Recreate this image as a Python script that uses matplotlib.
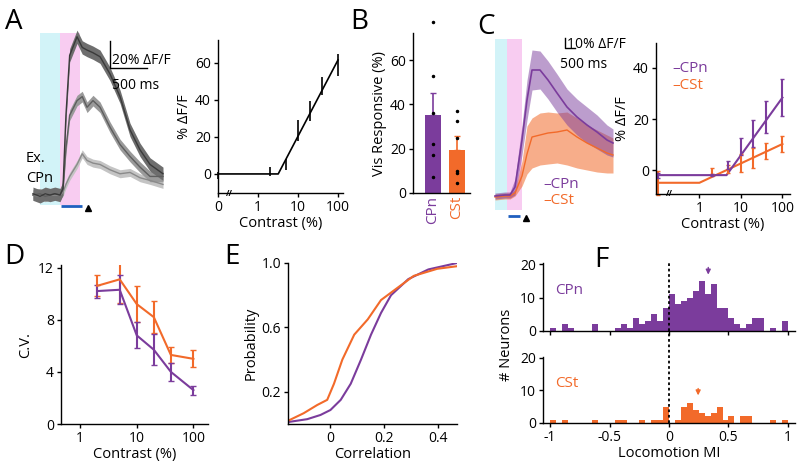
import numpy as np
import matplotlib.pyplot as plt
import matplotlib.transforms as mtransforms

plt.rcParams['font.family'] = ['Open Sans', 'DejaVu Sans']
plt.rcParams['font.size'] = 10
plt.rcParams['axes.linewidth'] = 1.0
plt.rcParams['xtick.major.size'] = 3
plt.rcParams['ytick.major.size'] = 3
plt.rcParams['xtick.labelsize'] = 10
plt.rcParams['ytick.labelsize'] = 10
plt.rcParams['axes.labelsize'] = 10.5

PURPLE = '#7b3c9c'
ORANGE = '#f26a2a'
CYAN = '#d2f3f8'
PINK = '#f8ccf1'
BLUE = '#1f5fbf'

# ---- panel A: example traces (ms, % dF/F)
a_time = [-365, -270, -200, -135, -70, 0, 40, 80, 130, 230, 300, 365, 445,
          540, 675, 810, 945, 1080, 1215, 1390]
a_high = [1, -1, 1, 0, 1, 0, 5, 60, 105, 119, 111, 109, 107, 104, 91, 74, 49,
          34, 23, 16]
a_mid = [0, 1, -1, 0, 1, 0, 4, 35, 60, 71, 74, 66, 71, 66, 51, 38, 29, 21, 14,
         14]
a_low = [0, -1, 1, 0, 0, 0, 2, 8, 14, 23, 31, 26, 24, 23, 19, 16, 17, 13, 11, 8]
a_sem = [5, 4, 3]

# ---- panel A: contrast response
a_contrast = [0.1, 2, 5, 10, 20, 40, 100]   # 0 % drawn at 0.1
a_resp = [-1, 1.5, 5, 23.5, 34, 47.5, 59]
a_err = [2, 2.5, 3, 5.5, 5.5, 5, 6]
a_fit_x = [0.1, 3.2, 100]
a_fit_y = [0, 0, 61.6]

# ---- panel B
cells = ['CPn', 'CSt']
vis_mean = [35, 19.5]
vis_sem = [10, 6]
cpn_dots = [77, 53, 36, 22, 17, 7]
cst_dots = [37, 32.6, 25, 10, 9, 4.6]

# ---- panel C: population traces (ms, % dF/F)
c_time = [-600, -100, 150, 400, 750, 1000, 1250, 1650, 2050, 2500, 3000, 3500,
          4000, 4500, 5000, 5300]
c_cpn = [0, 1, 1, 9, 56, 96, 126, 126, 116, 103, 89, 79, 71, 64, 56, 53]
c_cpn_sem = [3, 3, 3, 8, 15, 20, 20, 19, 19, 19, 18, 18, 18, 17, 15, 14]
c_cst = [-1, 0, 0, 3, 20, 42, 59, 61, 63, 64, 66, 59, 53, 48, 43, 41]
c_cst_hi = [2, 3, 3, 6, 35, 70, 78, 83, 84, 83, 84, 78, 71, 66, 61, 58]
c_cst_lo = [-4, -3, -3, 0, 10, 22, 28, 31, 32, 33, 31, 28, 26, 24, 23, 23]

# ---- panel C: contrast response
c_contrast = [0.1, 2, 5, 10, 20, 40, 100]
c_cpn_resp = [-2, -2, 2, 9.2, 14.4, 20.9, 28.4]
c_cpn_err = [1, 0.5, 1.5, 3.3, 5.2, 6.3, 7.3]
c_cst_resp = [-5, -0.3, 0.4, 2.6, 4.6, 7.5, 10.2]
c_cst_err = [4.7, 1.2, 1.5, 3.5, 4, 3, 3]
c_cpn_fit_x = [0.1, 4.5, 100]
c_cpn_fit_y = [-2, -2, 28.4]
c_cst_fit_x = [0.1, 1, 100]
c_cst_fit_y = [-5, -5, 10.2]

# ---- panel D
d_contrast = [2, 5, 10, 20, 40, 100]
d_cpn = [10.2, 10.3, 6.8, 5.7, 4.0, 2.6]
d_cpn_err = [0.5, 1.1, 1.0, 1.2, 0.7, 0.35]
d_cst = [10.6, 11.1, 9.2, 8.2, 5.3, 5.0]
d_cst_err = [0.8, 1.8, 1.4, 1.2, 0.6, 0.65]

# ---- panel E: cumulative distributions
e_cpn_x = [-0.155, -0.084, -0.035, 0.002, 0.04, 0.077, 0.115, 0.152, 0.189,
           0.226, 0.29, 0.364, 0.47]
e_cpn_p = [0.012, 0.03, 0.056, 0.087, 0.15, 0.25, 0.40, 0.555, 0.69, 0.80,
           0.90, 0.96, 1.0]
e_cst_x = [-0.155, -0.097, -0.047, -0.01, 0.015, 0.046, 0.09, 0.14, 0.189,
           0.25, 0.31, 0.397, 0.47]
e_cst_p = [0.02, 0.067, 0.118, 0.15, 0.25, 0.40, 0.555, 0.65, 0.77, 0.846,
           0.92, 0.964, 0.98]

# ---- panel F: locomotion MI histograms, bins of 0.05 from -1 to 1
f_edges = np.linspace(-1, 1, 41)
f_cpn = [1, 0, 2, 1, 0, 0, 0, 2, 0, 0, 0, 1, 2, 1, 4, 2, 3, 5, 3, 7,
         11, 8, 9, 10, 12, 15, 11, 14, 7, 7, 4, 2, 1, 2, 4, 4, 0, 1, 0, 3]
f_cst = [1, 0, 1, 0, 0, 0, 0, 1, 0, 0, 0, 1, 1, 0, 0, 1, 0, 1, 1, 5,
         0, 1, 5, 6, 4, 3, 2, 3, 5, 1, 2, 0, 2, 2, 0, 0, 0, 1, 0, 1]
f_cpn_median = 0.33
f_cst_median = 0.245

W, H = 800, 472
fig = plt.figure(figsize=(8, 4.72), dpi=100)


def box(l, t, r, b):
    return fig.add_axes([l / W, 1 - b / H, (r - l) / W, (b - t) / H])


def clean(ax):
    ax.spines['top'].set_visible(False)
    ax.spines['right'].set_visible(False)
    ax.tick_params(direction='out', length=3, width=1, pad=2)


def letter(x, y, s):
    fig.text(x / W, 1 - y / H, s, fontsize=20, ha='center', va='center')


def break_mark(ax, x):
    tr = mtransforms.blended_transform_factory(ax.transAxes, ax.transAxes)
    ax.text(x, 0, '//', transform=tr, fontsize=6, ha='center', va='center',
            fontweight='bold', clip_on=False)


# A traces
ax = box(20, 20, 175, 215)
ax.set_xlim(-540, 1552)
ax.set_ylim(-15, 131.6)
ax.axis('off')
ax.axvspan(-270, 0, ymin=(-7.5 + 15) / 146.6, ymax=(121.8 + 15) / 146.6,
           color=CYAN, lw=0)
ax.axvspan(0, 270, ymin=(-7.5 + 15) / 146.6, ymax=(121.8 + 15) / 146.6,
           color=PINK, lw=0)
t = np.array(a_time)
for tr, s, lc, bc in [(a_low, a_sem[2], '#8a8a8a', '#c4c4c4'),
                      (a_mid, a_sem[1], '#5e5e5e', '#9a9a9a'),
                      (a_high, a_sem[0], '#3a3a3a', '#6e6e6e')]:
    tr = np.array(tr)
    ax.fill_between(t, tr - s, tr + s, color=bc, lw=0)
    ax.plot(t, tr, color=lc, lw=1)
ax.plot([675, 675, 1175], [115.5, 95.5, 95.5], color='k', lw=1)
ax.text(705, 101, '20% ΔF/F', fontsize=10, va='center')
ax.text(705, 82, '500 ms', fontsize=10, va='center')
ax.plot([20, 300], [-8, -8], color=BLUE, lw=2, solid_capstyle='butt')
ax.plot([380], [-10], marker='^', color='k', ms=5)
fig.text(26 / W, 1 - 158 / H, 'Ex.', fontsize=10.5, va='center')
fig.text(26 / W, 1 - 178 / H, 'CPn', fontsize=10.5, va='center')
letter(14, 22, 'A')

# A contrast response
ax = box(218, 40, 343, 193)
clean(ax)
ax.set_xscale('log')
ax.set_xlim(0.1, 133.4)
ax.set_ylim(-10.3, 72.4)
ax.plot(a_fit_x, a_fit_y, color='k', lw=1.2)
ax.errorbar(a_contrast, a_resp, yerr=a_err, fmt='none', ecolor='k', lw=1.2,
            capsize=0, clip_on=False)
ax.set_xticks([0.1, 1, 10, 100])
ax.set_xticklabels(['0', '1', '10', '100'])
ax.xaxis.set_minor_locator(plt.NullLocator())
ax.set_yticks([0, 20, 40, 60])
ax.set_xlabel('Contrast (%)', labelpad=1)
ax.set_ylabel('% ΔF/F', labelpad=2)
break_mark(ax, 0.09)

# B
ax = box(413, 33, 470, 193)
clean(ax)
ax.set_xlim(-0.83, 1.55)
ax.set_ylim(0, 72.2)
cols = [PURPLE, ORANGE]
ax.bar([0, 1], vis_mean, width=0.65, color=cols)
for i in range(2):
    ax.errorbar(i, vis_mean[i], yerr=[[0], [vis_sem[i]]], fmt='none',
                ecolor=cols[i], lw=1.2, capsize=2)
ax.plot([0] * len(cpn_dots), cpn_dots, 'k.', ms=3, clip_on=False)
ax.plot([1] * len(cst_dots), cst_dots, 'k.', ms=3)
ax.set_xticks([0, 1])
ax.set_xticklabels(cells, rotation=90, fontsize=11)
for lab, c in zip(ax.get_xticklabels(), cols):
    lab.set_color(c)
ax.tick_params(axis='x', length=0)
ax.set_yticks([0, 20, 40, 60])
ax.set_ylabel('Vis Responsive (%)', labelpad=2)
letter(359, 22, 'B')

# C traces
ax = box(490, 30, 620, 225)
ax.set_xlim(-850, 5650)
ax.set_ylim(-29, 166)
ax.axis('off')
ax.axvspan(-600, 0, ymin=(-14 + 29) / 195, ymax=(157 + 29) / 195, color=CYAN,
           lw=0)
ax.axvspan(0, 750, ymin=(-14 + 29) / 195, ymax=(157 + 29) / 195, color=PINK,
           lw=0)
ct = np.array(c_time)
ax.fill_between(ct, c_cst_lo, c_cst_hi, color=ORANGE, alpha=0.55, lw=0)
ax.plot(ct, c_cst, color=ORANGE, lw=1)
cp = np.array(c_cpn)
cs = np.array(c_cpn_sem)
ax.fill_between(ct, cp - cs, cp + cs, color=PURPLE, alpha=0.5, lw=0)
ax.plot(ct, cp, color=PURPLE, lw=1.2)
ax.plot([2900, 2900, 3400], [158, 148, 148], color='k', lw=1)
ax.text(2980, 152, '10% ΔF/F', fontsize=10, va='center')
ax.text(2650, 131, '500 ms', fontsize=10, va='center')
ax.plot([50, 650], [-20, -20], color=BLUE, lw=2, solid_capstyle='butt')
ax.plot([950], [-22], marker='^', color='k', ms=5)
ax.text(1800, 12, '–CPn', color=PURPLE, fontsize=11, va='center')
ax.text(1800, -4, '–CSt', color=ORANGE, fontsize=11, va='center')
letter(486, 27, 'C')

# C contrast response
ax = box(656, 43, 790, 194)
clean(ax)
ax.set_xscale('log')
ax.set_xlim(0.09, 152)
ax.set_ylim(-9.4, 49.8)
ax.plot(c_cst_fit_x, c_cst_fit_y, color=ORANGE, lw=1.5)
ax.plot(c_cpn_fit_x, c_cpn_fit_y, color=PURPLE, lw=1.5)
ax.errorbar(c_contrast, c_cst_resp, yerr=c_cst_err, fmt='none', ecolor=ORANGE,
            lw=1.5, capsize=1.5, clip_on=False)
ax.errorbar(c_contrast, c_cpn_resp, yerr=c_cpn_err, fmt='none', ecolor=PURPLE,
            lw=1.5, capsize=1.5, clip_on=False)
ax.set_xticks([1, 10, 100])
ax.set_xticklabels(['1', '10', '100'])
ax.xaxis.set_minor_locator(plt.NullLocator())
ax.set_yticks([0, 20, 40])
ax.set_xlabel('Contrast (%)', labelpad=1)
ax.set_ylabel('% ΔF/F', labelpad=2)
ax.text(0.12, 0.83, '–CPn', color=PURPLE, fontsize=11, transform=ax.transAxes,
        va='center')
ax.text(0.12, 0.72, '–CSt', color=ORANGE, fontsize=11, transform=ax.transAxes,
        va='center')
break_mark(ax, 0.1)

# D
ax = box(61, 265, 208, 424)
clean(ax)
ax.set_xscale('log')
ax.set_xlim(0.46, 181)
ax.set_ylim(0, 12.2)
ax.errorbar(d_contrast, d_cst, yerr=d_cst_err, color=ORANGE, lw=1.5,
            capsize=2)
ax.errorbar(d_contrast, d_cpn, yerr=d_cpn_err, color=PURPLE, lw=1.5,
            capsize=2)
ax.set_xticks([1, 10, 100])
ax.set_xticklabels(['1', '10', '100'])
ax.xaxis.set_minor_locator(plt.NullLocator())
ax.set_yticks([0, 4, 8, 12])
ax.set_xlabel('Contrast (%)', labelpad=1)
ax.set_ylabel('C.V.', labelpad=4)
letter(14, 257, 'D')

# E
ax = box(288, 263, 457, 424)
clean(ax)
ax.set_xlim(-0.155, 0.47)
ax.set_ylim(0, 1.0)
ax.plot(e_cpn_x, e_cpn_p, color=PURPLE, lw=1.5)
ax.plot(e_cst_x, e_cst_p, color=ORANGE, lw=1.5)
ax.set_xticks([0, 0.2, 0.4])
ax.set_xticklabels(['0', '0.2', '0.4'])
ax.set_yticks([0.2, 0.6, 1.0])
ax.set_xlabel('Correlation', labelpad=1)
ax.set_ylabel('Probability', labelpad=2)
letter(232, 257, 'E')

# F
axt = box(543, 263, 795, 331)
axb = box(543, 357, 795, 423)
for a, counts, c, lab, med, ylim in [(axt, f_cpn, PURPLE, 'CPn', f_cpn_median, 20.3),
                                      (axb, f_cst, ORANGE, 'CSt', f_cst_median, 20.2)]:
    clean(a)
    a.set_xlim(-1.059, 1.059)
    a.set_ylim(0, ylim)
    a.bar(f_edges[:-1], counts, width=0.05, align='edge', color=c, lw=0)
    a.set_yticks([0, 10, 20])
    a.set_xticks([-1, -0.5, 0, 0.5, 1])
    a.axvline(0, color='k', ls=(0, (1.5, 1.5)), lw=1.3)
    a.text(0.05, 0.6, lab, color=c, fontsize=11, transform=a.transAxes,
           va='center')
axt.set_xticklabels([])
axb.set_xticklabels(['-1', '-0.5', '0', '0.5', '1'])
axb.set_xlabel('Locomotion MI', labelpad=1)
tr = mtransforms.blended_transform_factory(axt.transData, axt.transAxes)
axt.plot([0, 0], [-0.4, 0], transform=tr, color='k', ls=(0, (1.5, 1.5)),
         lw=1.3, clip_on=False)
axt.annotate('', xy=(f_cpn_median, 16.0), xytext=(f_cpn_median, 19.8),
             arrowprops=dict(arrowstyle='-|>', color=PURPLE, lw=1,
                             mutation_scale=7))
axb.annotate('', xy=(f_cst_median, 7.6), xytext=(f_cst_median, 11.4),
             arrowprops=dict(arrowstyle='-|>', color=ORANGE, lw=1,
                             mutation_scale=7))
fig.text(507 / W, 1 - 345 / H, '# Neurons', rotation=90, fontsize=10.5,
         ha='center', va='center')
letter(601, 260, 'F')

fig.savefig('out.png', dpi=100)
